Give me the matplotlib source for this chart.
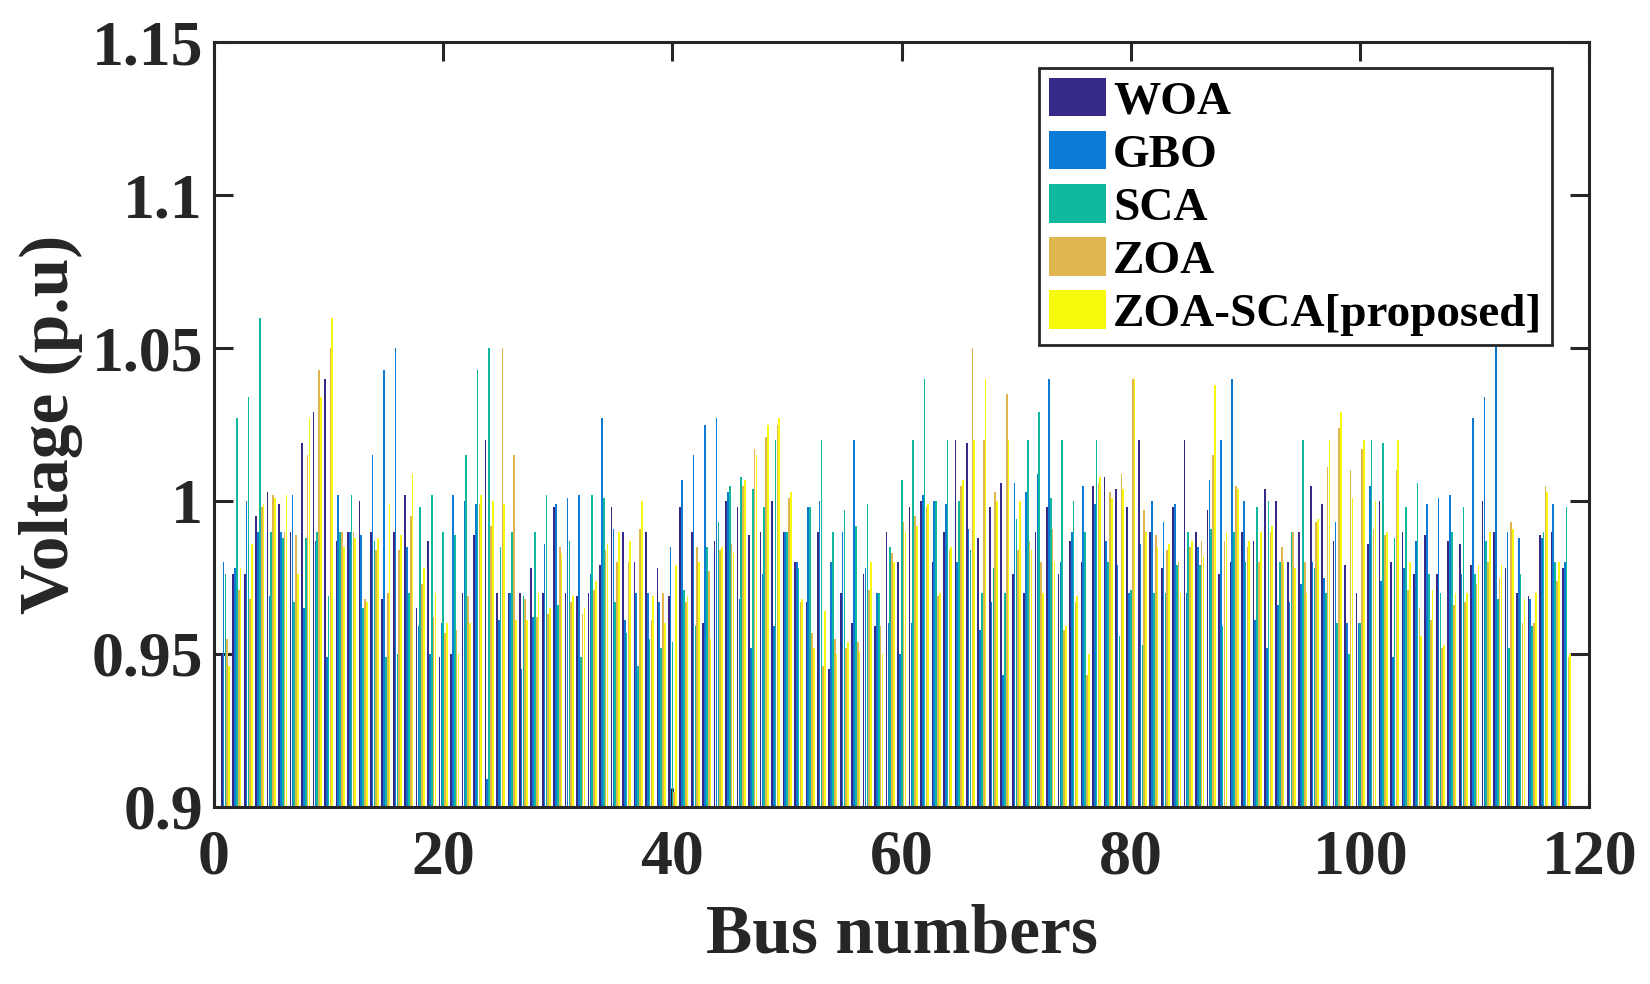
import matplotlib
matplotlib.use("Agg")
import matplotlib.pyplot as plt
import numpy as np

# voltage profile per bus
woa = [0.950, 0.976, 0.976, 0.995, 1.003, 0.999, 0.990, 1.019, 1.029, 1.040,
       0.987, 0.990, 1.000, 0.990, 0.968, 0.990, 1.002, 0.965, 0.987, 0.949,
       0.950, 0.970, 0.989, 1.020, 0.970, 0.970, 0.970, 0.978, 0.970, 0.998,
       0.970, 0.969, 0.970, 0.979, 0.998, 0.990, 0.980, 0.990, 0.978, 0.969,
       0.998, 0.990, 0.960, 0.987, 1.000, 0.998, 0.989, 0.990, 1.000, 0.990,
       0.980, 0.967, 0.990, 0.945, 0.970, 0.960, 0.976, 0.959, 0.990, 0.980,
       0.998, 1.000, 0.980, 0.990, 1.020, 1.019, 0.988, 0.998, 1.006, 0.976,
       0.970, 0.990, 0.998, 0.976, 0.987, 0.980, 1.005, 1.008, 1.004, 0.998,
       1.020, 0.990, 0.978, 0.998, 1.020, 0.990, 0.997, 0.976, 0.980, 0.990,
       0.987, 1.004, 1.000, 0.980, 0.990, 1.005, 0.999, 0.987, 0.979, 0.970,
       0.986, 1.000, 0.980, 0.990, 0.976, 0.989, 0.976, 0.987, 0.986, 0.979,
       1.000, 0.990, 0.978, 0.970, 0.969, 0.989, 0.990, 0.978]
gbo = [0.980, 0.978, 1.000, 0.990, 0.969, 0.990, 1.002, 0.965, 0.987, 0.949,
       1.002, 0.990, 0.989, 1.015, 1.043, 1.050, 0.985, 0.959, 0.950, 0.960,
       1.002, 1.000, 0.999, 0.909, 0.961, 0.970, 0.945, 0.962, 0.986, 0.999,
       1.001, 1.002, 0.976, 1.027, 0.991, 0.961, 0.970, 0.970, 0.967, 0.985,
       1.007, 1.015, 1.025, 1.027, 1.003, 0.968, 0.952, 0.976, 0.959, 0.990,
       0.980, 0.998, 1.000, 0.980, 0.990, 1.020, 0.978, 0.970, 0.960, 0.950,
       0.960, 1.002, 1.000, 0.999, 0.980, 0.991, 0.958, 0.967, 0.943, 1.006,
       1.003, 1.009, 1.040, 0.980, 0.990, 1.005, 0.999, 0.987, 0.979, 0.970,
       0.986, 1.000, 0.993, 0.999, 0.970, 0.985, 1.007, 1.020, 1.040, 1.000,
       0.961, 0.952, 0.966, 0.967, 0.973, 0.980, 0.975, 0.993, 0.960, 0.960,
       1.005, 0.974, 0.949, 0.978, 0.987, 0.999, 1.001, 1.002, 0.976, 1.027,
       1.034, 1.055, 0.990, 0.988, 0.968, 0.988, 0.999, 0.980]
sca = [0.976, 1.027, 1.034, 1.060, 0.990, 0.988, 0.967, 0.988, 0.990, 0.969,
       0.990, 1.002, 0.965, 0.987, 0.949, 0.950, 0.970, 0.998, 1.002, 0.990,
       0.989, 1.015, 1.043, 1.050, 0.985, 0.990, 0.969, 0.990, 1.002, 0.966,
       0.987, 0.949, 1.002, 1.001, 0.967, 0.957, 0.946, 0.955, 0.952, 0.954,
       0.971, 0.959, 0.985, 0.993, 1.005, 1.008, 1.004, 0.998, 1.020, 0.990,
       0.978, 0.998, 1.020, 0.990, 0.997, 0.992, 0.999, 0.970, 0.985, 1.007,
       1.020, 1.040, 1.000, 1.020, 1.000, 0.984, 0.970, 0.978, 0.970, 0.994,
       1.020, 1.029, 1.001, 1.020, 1.000, 0.990, 1.020, 0.980, 0.956, 0.971,
       0.953, 0.970, 0.970, 0.979, 0.990, 0.979, 0.991, 0.959, 0.990, 0.980,
       0.998, 1.000, 0.980, 0.990, 1.020, 0.978, 0.970, 0.960, 0.950, 0.960,
       1.020, 1.019, 0.988, 0.998, 1.006, 0.976, 0.970, 0.990, 0.998, 0.976,
       0.987, 0.968, 0.952, 0.976, 0.959, 0.990, 0.980, 0.998]
zoa = [0.955, 0.971, 0.968, 0.998, 1.002, 0.990, 0.989, 1.015, 1.043, 1.050,
       0.990, 0.990, 0.968, 0.984, 0.970, 0.984, 0.995, 0.973, 0.962, 0.957,
       0.958, 0.969, 0.999, 0.992, 1.050, 1.015, 0.968, 0.962, 0.963, 0.985,
       0.967, 0.963, 0.971, 0.984, 0.980, 0.980, 0.991, 0.961, 0.970, 0.905,
       0.967, 0.985, 0.977, 0.984, 0.986, 1.005, 1.017, 1.021, 1.025, 1.001,
       0.967, 0.957, 0.946, 0.955, 0.952, 0.954, 0.971, 0.959, 0.983, 0.993,
       0.995, 0.998, 0.969, 0.984, 1.005, 1.050, 1.020, 1.003, 1.035, 0.984,
       0.987, 0.980, 0.991, 0.958, 0.967, 0.943, 1.006, 1.003, 1.009, 1.040,
       0.997, 0.989, 0.984, 0.980, 0.985, 0.987, 1.015, 0.987, 1.005, 0.985,
       0.980, 0.990, 0.985, 0.990, 0.980, 0.993, 1.011, 1.024, 1.010, 1.017,
       0.991, 0.989, 1.010, 0.971, 0.965, 0.961, 0.952, 0.966, 0.967, 0.973,
       0.980, 0.975, 0.993, 0.960, 0.960, 1.005, 0.974, 0.949]
zoa_sca = [0.946, 0.978, 0.986, 0.999, 1.001, 1.002, 0.976, 1.027, 1.034, 1.060,
           0.985, 0.988, 0.967, 0.988, 0.999, 0.989, 1.009, 0.978, 0.970, 0.960,
           0.950, 0.960, 1.002, 1.000, 0.999, 0.961, 0.961, 0.970, 0.965, 0.983,
           0.969, 0.965, 0.974, 0.986, 0.990, 0.987, 1.000, 0.969, 0.960, 0.979,
           0.969, 0.980, 0.955, 0.985, 0.983, 1.007, 1.015, 1.025, 1.027, 1.003,
           0.968, 0.952, 0.964, 0.950, 0.954, 0.951, 0.980, 0.950, 0.980, 0.990,
           0.992, 0.999, 0.970, 0.985, 1.007, 1.020, 1.040, 1.000, 1.020, 1.000,
           0.984, 0.970, 0.980, 0.959, 0.969, 0.950, 1.008, 1.001, 1.004, 1.040,
           0.990, 0.985, 0.986, 0.970, 0.987, 0.982, 1.038, 0.990, 1.004, 0.987,
           0.990, 0.992, 0.980, 0.978, 0.970, 0.994, 1.020, 1.029, 1.001, 1.020,
           1.000, 0.990, 1.020, 0.980, 0.956, 0.971, 0.953, 0.970, 0.970, 0.979,
           0.990, 0.979, 0.991, 0.968, 0.970, 1.003, 0.980, 0.950]

series = [woa, gbo, sca, zoa, zoa_sca]
names = ["WOA", "GBO", "SCA", "ZOA", "ZOA-SCA[proposed]"]
colors = ["#352a87", "#0b7bd6", "#10b89e", "#e0b74f", "#f8fa0d"]

buses = np.arange(1, len(woa) + 1)
slot = 0.8 / len(series)

plt.rcParams["font.family"] = ["Liberation Serif", "DejaVu Serif"]
plt.rcParams["font.weight"] = "bold"

fig = plt.figure(figsize=(16.5, 9.84), dpi=100)
ax = fig.add_axes([0.1297, 0.180, 0.8336, 0.777])
ax.set_axisbelow(True)

for i, (vals, name, col) in enumerate(zip(series, names, colors)):
    ax.bar(buses + (i - 2) * slot, vals, width=slot * 0.9,
           color=col, edgecolor="none", label=name)

ax.set_xlim(0, 120)
ax.set_ylim(0.9, 1.15)
ax.set_xticks(np.arange(0, 121, 20))
yt = [0.9, 0.95, 1.0, 1.05, 1.1, 1.15]
ax.set_yticks(yt)
ax.set_yticklabels(["0.9", "0.95", "1", "1.05", "1.1", "1.15"])
ax.tick_params(direction="in", length=14, width=2.2, labelsize=46,
               top=True, right=True, colors="#262626", labelcolor="#262626",
               pad=8)
ax.tick_params(axis="x", pad=16)
for lab in ax.get_xticklabels() + ax.get_yticklabels():
    lab.set_fontweight("bold")
for sp in ax.spines.values():
    sp.set_linewidth(2.2)
    sp.set_color("#262626")
    sp.set_zorder(5)

ax.set_xlabel("Bus numbers", fontsize=50, fontweight="bold", color="#262626", labelpad=12)
ax.set_ylabel("Voltage (p.u)", fontsize=50, fontweight="bold", color="#262626", labelpad=6)

leg = ax.legend(loc="upper right", bbox_to_anchor=(0.9727, 0.966), fontsize=34,
                frameon=True, fancybox=False, framealpha=1, edgecolor="#262626",
                handlelength=1.22, handleheight=0.88, handletextpad=0.15,
                labelspacing=0.16, borderpad=0.2, borderaxespad=0)
leg.get_frame().set_linewidth(2)
for t in leg.get_texts():
    t.set_fontweight("bold")

fig.savefig("out.png", dpi=100)
